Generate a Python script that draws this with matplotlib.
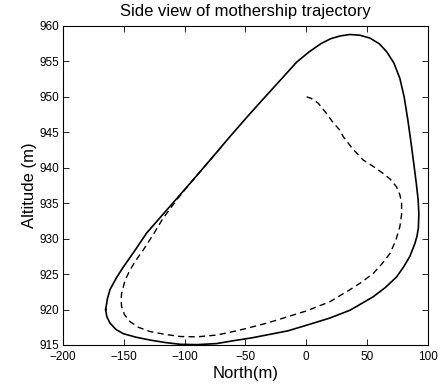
"""Side view of mothership trajectory: altitude vs north, actual (solid) and reference (dashed)."""

import matplotlib

matplotlib.use("Agg")
import matplotlib.pyplot as plt

plt.rcParams["font.family"] = ["Liberation Sans", "DejaVu Sans"]

# Solid loop (north m, altitude m)
SOLID_N = [-164.9, -163.5, -161.4, -156, -150.4, -141, -131.2, -120, -109.3, -93,
           -78, -62.7, -50, -35.4, -20, -7.9, 2, 12, 20, 28, 35.9, 44, 52.3, 60,
           66, 72, 77, 80.5, 83.5, 86.2, 88.5, 90.5, 92, 92.6, 92.2, 91, 89.3,
           85.2, 80, 74.3, 65, 55, 45, 35.9, 19.4, 0.5, -15, -30, -45, -60, -73.7,
           -90, -103.8, -116, -128.5, -140, -150.4, -156.5, -161.4, -164, -164.9]
SOLID_ALT = [920, 921.5, 922.8, 924.5, 926, 928.3, 930.8, 933.0, 935.1, 938.3,
             941.3, 944.4, 946.9, 949.7, 952.6, 954.9, 956.3, 957.5, 958.2, 958.6,
             958.8, 958.7, 958.3, 957.5, 956.4, 954.8, 952.6, 950, 946.8, 943.5,
             940.5, 937.8, 935.5, 933.5, 931.5, 930.3, 929.3, 927.5, 926, 924.6,
             923.1, 921.8, 920.8, 919.9, 918.8, 917.8, 917, 916.5, 916, 915.6,
             915.2, 915.05, 915.1, 915.35, 915.7, 916.1, 916.6, 917.2, 918.1, 919,
             920]

# Dashed path, joins the solid loop on the left diagonal
DASH_N = [0.3, 4, 9.9, 16, 22, 27.7, 30.4, 38, 46.8, 55, 63.3, 69, 74.3, 77, 78.4,
          78.4, 77, 73.5, 68.8, 62, 55.1, 45, 35.9, 19.4, 0, -15, -32, -50, -62.7,
          -73.7, -90, -103.8, -116, -128.5, -138, -144.9, -149.5, -151.8, -152.2,
          -151.8, -149, -144.9, -139, -134, -125, -118, -112, -105, -93, -78, -70]
DASH_ALT = [950, 949.8, 949.1, 947.8, 946.4, 945.3, 944.4, 942.7, 941.1, 940.2,
            939.2, 938.4, 937.3, 936.2, 935, 933.4, 931.7, 929.7, 927.9, 926.4,
            925.1, 923.8, 922.8, 921.1, 919.8, 919, 918.1, 917.3, 916.8, 916.4,
            916.15, 916.2, 916.5, 916.9, 917.5, 918.3, 919.3, 920.4, 921.4, 922.3,
            924.1, 925.6, 927.2, 928.4, 930.8, 932.8, 934.2, 935.8, 938.3, 941.3,
            942.9]

X_TICKS = [-200, -150, -100, -50, 0, 50, 100]
Y_TICKS = [915, 920, 925, 930, 935, 940, 945, 950, 955, 960]

fig = plt.figure(figsize=(4.42, 3.92), dpi=100)
ax = fig.add_axes([0.1425, 0.1199, 0.8255, 0.8138])

ax.plot(SOLID_N, SOLID_ALT, "-", color="black", lw=1.2, solid_joinstyle="round")
ax.plot(DASH_N, DASH_ALT, "--", color="black", lw=1.0, dashes=(4.5, 3))

ax.set_xlim(-200, 100)
ax.set_ylim(915, 960)
ax.set_xticks(X_TICKS)
ax.set_yticks(Y_TICKS)
ax.tick_params(direction="in", top=True, right=True, length=4, width=0.6,
               labelsize=8.5)
ax.tick_params(axis="x", pad=4.5)
ax.tick_params(axis="y", pad=2.5)
for s in ax.spines.values():
    s.set_linewidth(0.8)

ax.set_xlabel("North(m)", fontsize=12, labelpad=2)
ax.set_ylabel("Altitude (m)", fontsize=12, labelpad=2)
ax.set_title("Side view of mothership trajectory", fontsize=12, pad=7)

fig.savefig("out.png", dpi=100)
